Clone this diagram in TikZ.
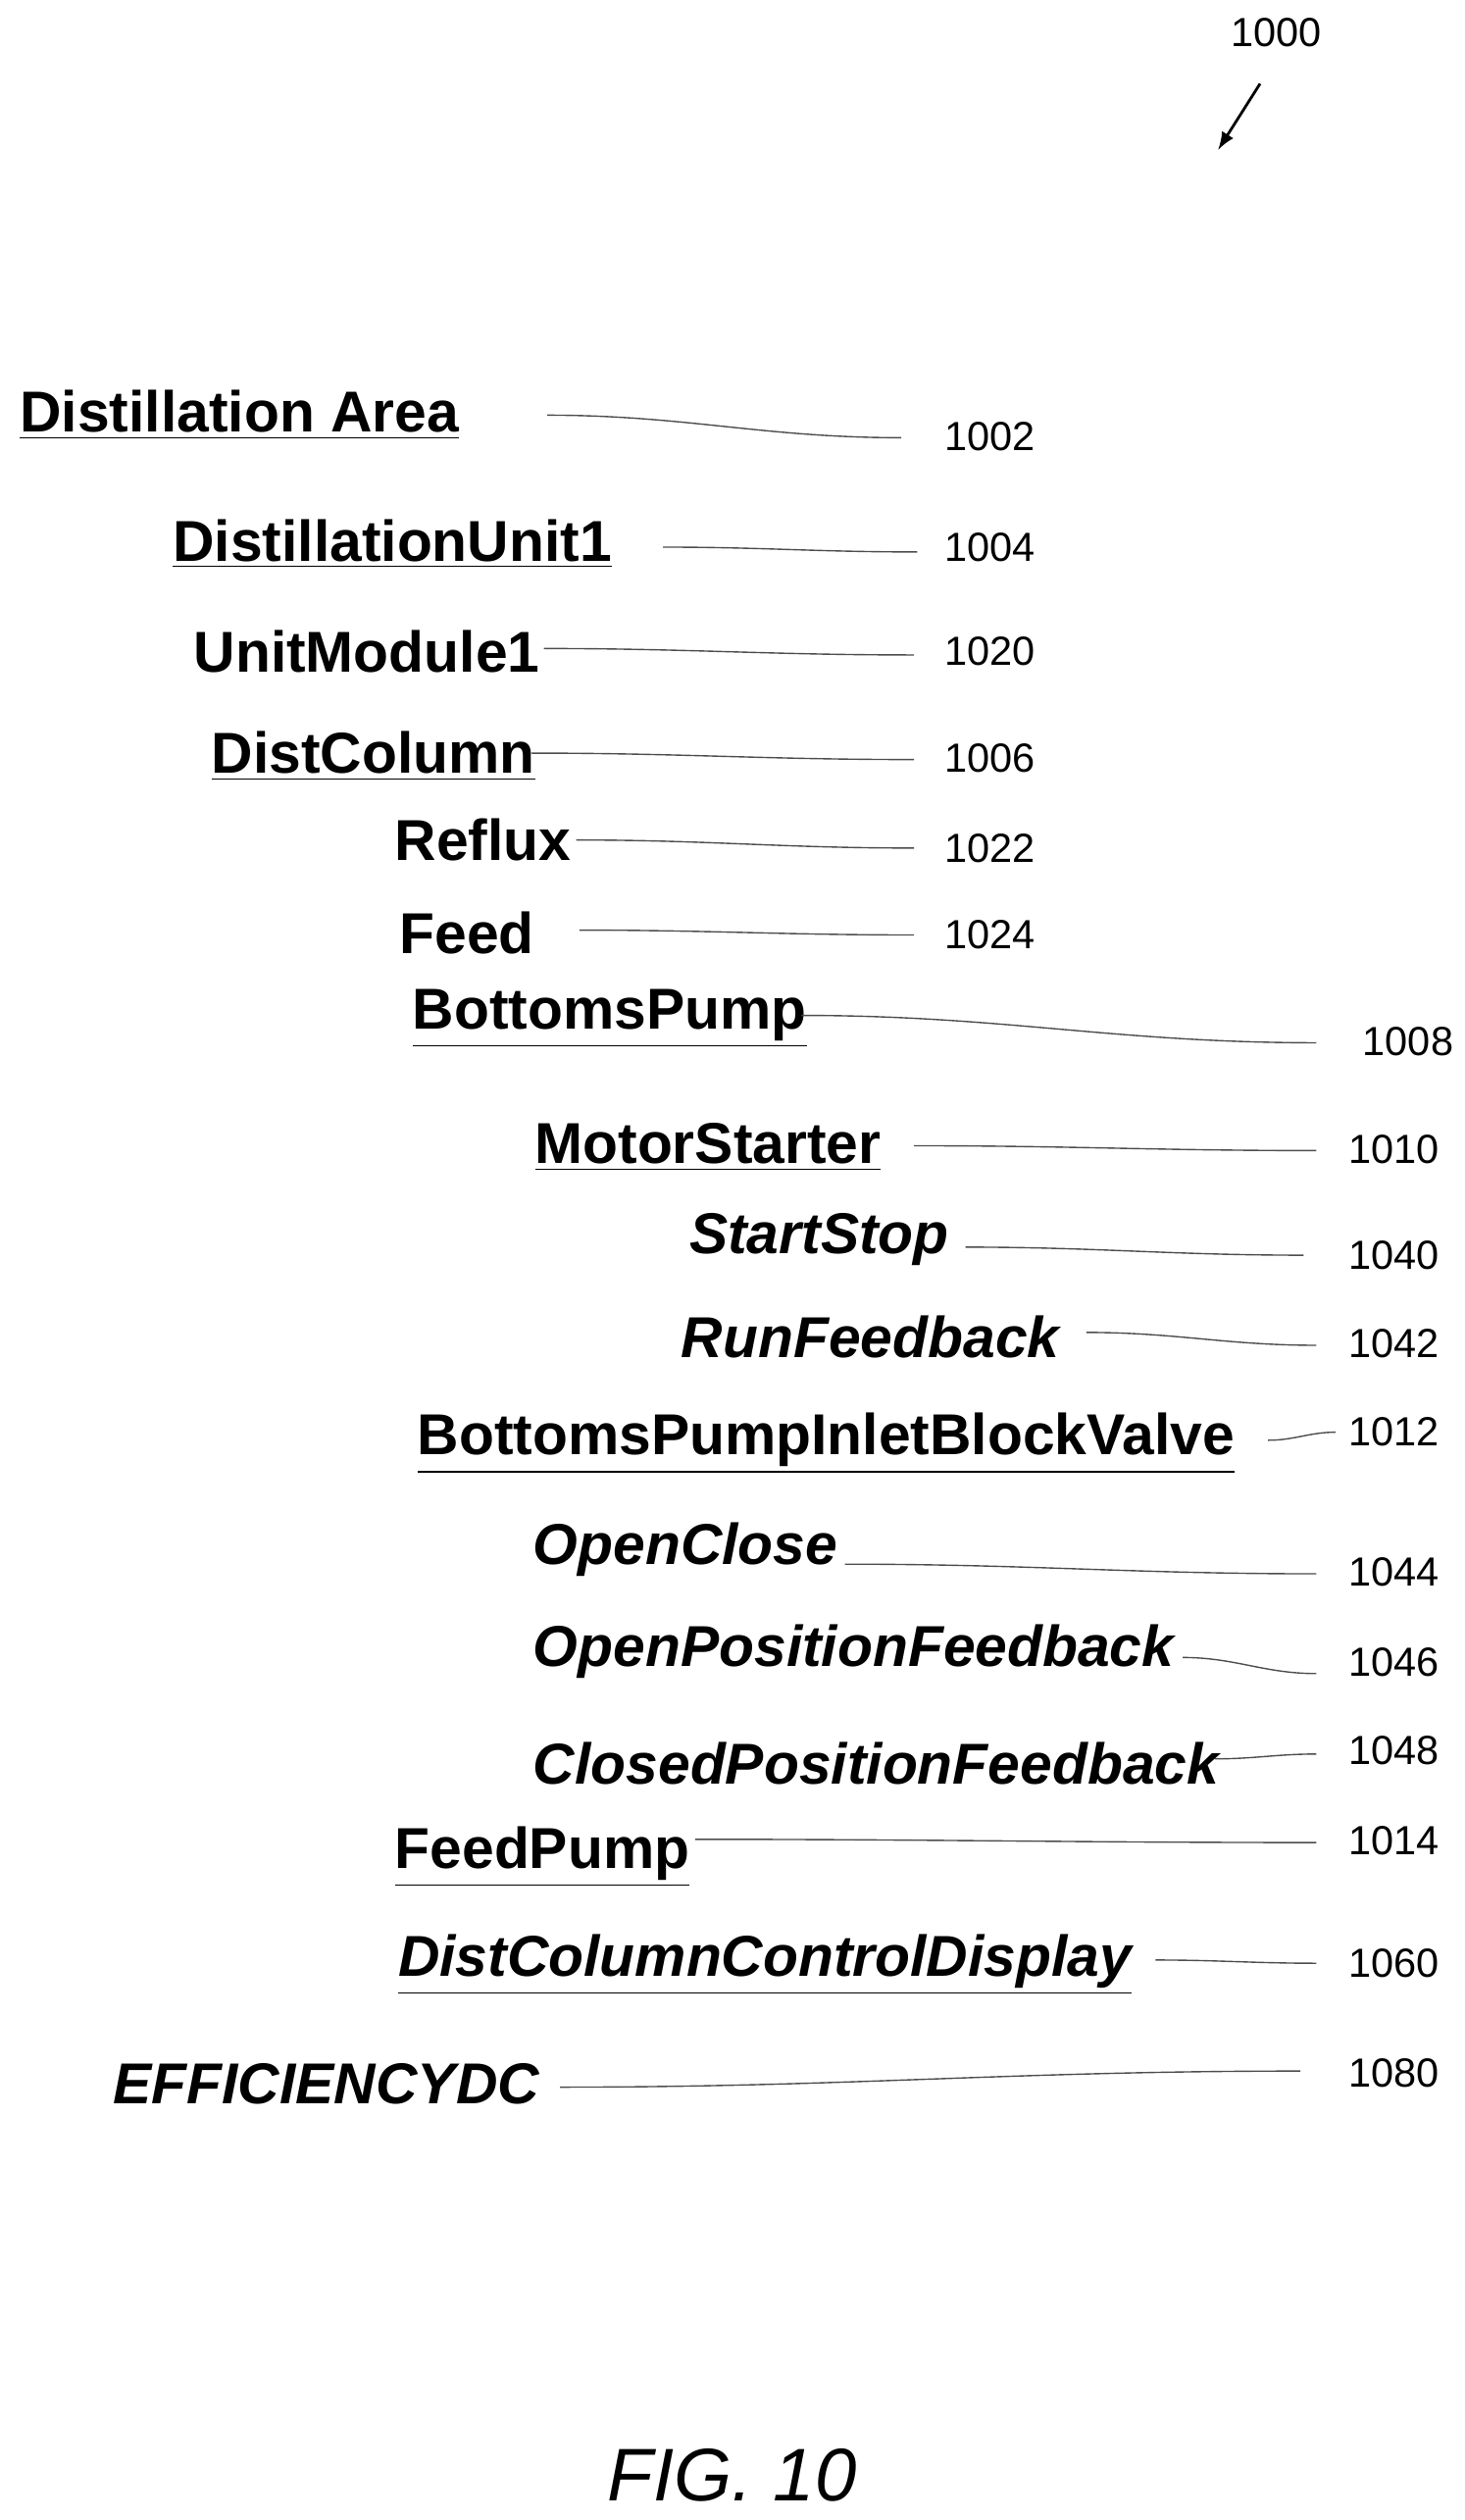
\documentclass[tikz,border=0pt]{standalone}
\usepackage{fontspec}
\setmainfont{Liberation Sans}
\begin{document}
\begin{tikzpicture}[x=0.01668cm,y=-0.01668cm,
    item/.style={anchor=west,font=\fontsize{17}{20}\selectfont\bfseries,inner sep=0pt},
    itemit/.style={item,font=\fontsize{17}{20}\selectfont\bfseries\itshape},
    refnum/.style={font=\fontsize{12}{14}\selectfont,inner sep=0pt},
    lead/.style={thin,black!70}]

        \useasboundingbox (0,0) rectangle (910,1566);

        %reference
        \node[refnum] (n1000) at (793,20) {1000};
        \coordinate (a1000) at (783,52);
        \draw[-latex,thick] (a1000) -- (757,93);

        %items
        \node[item] (area) at (12,258) {\underline{Distillation Area}};
        \node[item] (unit) at (107,338) {\underline{DistillationUnit1}};
        \node[item] (umod) at (120,405) {UnitModule1};
        \node[item] (col) at (131,470) {\underline{DistColumn}};
        \node[item] (reflux) at (245,522) {Reflux};
        \node[item] (feed) at (248,580) {Feed};
        \node[item] (bpump) at (256,633) {\underline{BottomsPump}};
        \node[item] (mstart) at (332,713) {\underline{MotorStarter}};
        \node[itemit] (ss) at (428,770) {StartStop};
        \node[itemit] (runfb) at (423,831) {RunFeedback};
        \node[item] (valve) at (259,897) {\underline{BottomsPumpInletBlockValve}};
        \node[itemit] (oc) at (331,963) {OpenClose};
        \node[itemit] (opfb) at (331,1026) {OpenPositionFeedback};
        \node[itemit] (cpfb) at (331,1096) {ClosedPositionFeedback};
        \node[item] (fpump) at (245,1154) {\underline{FeedPump}};
        \node[itemit] (disp) at (247,1221) {\underline{DistColumnControlDisplay}};
        \node[itemit] (eff) at (70,1295) {EFFICIENCYDC};

        %numbers and lead lines
        \foreach \nm/\sx/\sy/\ex/\ey/\nx/\ny in {
            1002/340/258/560/272/615/271,
            1004/412/340/570/343/615/340,
            1020/338/403/568/407/615/405,
            1006/330/468/568/472/615/471,
            1022/358/522/568/527/615/527,
            1024/360/578/568/581/615/581,
            1008/498/631/818/648/875/647,
            1010/568/712/818/715/866/714,
            1040/600/775/810/780/866/780,
            1042/675/828/818/836/866/835,
            1012/788/895/830/890/866/890,
            1044/525/972/818/978/866/977,
            1046/735/1030/818/1040/866/1033,
            1048/755/1093/818/1090/866/1088,
            1014/432/1143/818/1145/866/1144,
            1060/718/1218/818/1220/866/1220,
            1080/348/1297/808/1287/866/1288}{
            \node[refnum] (n\nm) at (\nx,\ny) {\nm};
            \coordinate (s\nm) at (\sx,\sy);
            \coordinate (e\nm) at (\ex,\ey);
            \draw[lead] (s\nm) to[out=0,in=180] (e\nm);
        }

        %caption
        \node[font=\fontsize{22}{26}\selectfont\itshape] (fig) at (455,1538) {FIG. 10};

\end{tikzpicture}
\end{document}
